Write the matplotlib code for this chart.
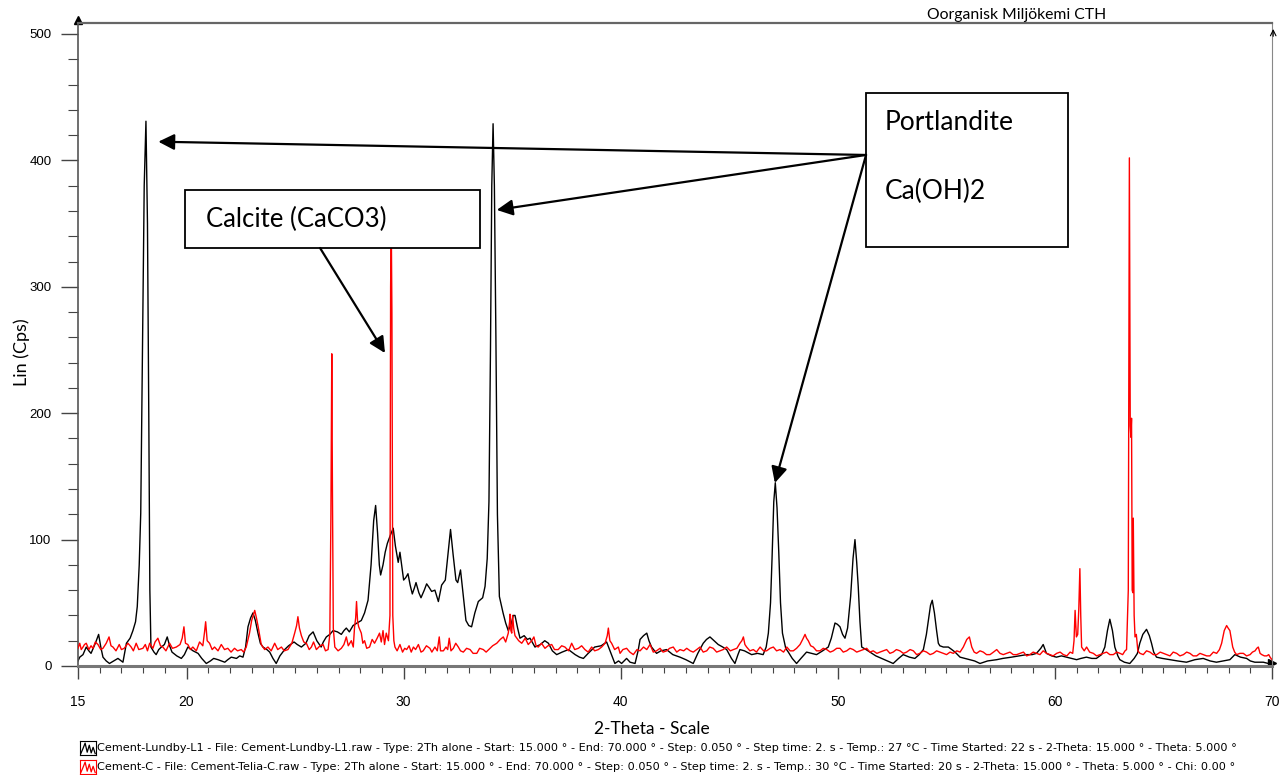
"""XRD pattern of two cement samples with phase annotations."""

import matplotlib

matplotlib.use("Agg")
import matplotlib.pyplot as plt
import matplotlib.ticker as mticker
from matplotlib.patches import Rectangle

W, H, DPI = 1286, 775, 100

# --- data (2-theta in degrees, Lin in Cps) ---
BLACK_2THETA = [
    15.0, 15.08, 15.23, 15.38, 15.5, 15.6, 15.8, 15.95, 16.05, 16.15, 16.3, 16.45, 16.65,
    16.84, 17.07, 17.23, 17.4, 17.53, 17.65, 17.73, 17.82, 17.89, 17.97, 18.05, 18.13,
    18.2, 18.26, 18.31, 18.36, 18.5, 18.6, 18.72, 18.84, 18.98, 19.11, 19.22, 19.33,
    19.55, 19.76, 19.9, 20.06, 20.3, 20.53, 20.7, 20.91, 21.1, 21.25, 21.45, 21.6, 21.76,
    21.9, 22.06, 22.3, 22.45, 22.6, 22.72, 22.83, 22.95, 23.06, 23.17, 23.29, 23.4, 23.52,
    23.7, 23.83, 23.98, 24.13, 24.3, 24.52, 24.7, 24.95, 25.1, 25.29, 25.5, 25.65, 25.83,
    26.0, 26.2, 26.3, 26.44, 26.6, 26.75, 26.95, 27.13, 27.25, 27.36, 27.5, 27.67, 27.85,
    28.05, 28.2, 28.36, 28.5, 28.62, 28.71, 28.8, 28.88, 28.94, 29.05, 29.15, 29.25, 29.4,
    29.52, 29.62, 29.75, 29.83, 29.92, 30.0, 30.1, 30.2, 30.3, 30.4, 30.5, 30.57, 30.7,
    30.8, 30.95, 31.06, 31.18, 31.29, 31.44, 31.6, 31.75, 31.92, 32.05, 32.16, 32.28,
    32.41, 32.49, 32.62, 32.72, 32.87, 33.0, 33.13, 33.28, 33.44, 33.64, 33.75, 33.85,
    33.93, 34.0, 34.06, 34.12, 34.18, 34.25, 34.32, 34.41, 34.5, 34.58, 34.7, 34.82,
    34.95, 35.05, 35.13, 35.25, 35.36, 35.55, 35.7, 35.82, 36.05, 36.3, 36.5, 36.67,
    36.85, 37.05, 37.3, 37.59, 37.9, 38.1, 38.28, 38.5, 38.8, 39.1, 39.35, 39.55, 39.73,
    39.9, 40.04, 40.27, 40.43, 40.66, 40.8, 40.89, 41.05, 41.2, 41.3, 41.42, 41.65, 41.85,
    42.11, 42.4, 42.73, 43.0, 43.34, 43.55, 43.8, 43.95, 44.11, 44.3, 44.49, 44.7, 44.88,
    45.1, 45.26, 45.4, 45.49, 45.7, 46.03, 46.3, 46.56, 46.7, 46.8, 46.9, 46.97, 47.05,
    47.12, 47.2, 47.28, 47.36, 47.45, 47.6, 47.72, 47.9, 48.1, 48.3, 48.56, 48.8, 49.02,
    49.3, 49.56, 49.7, 49.87, 49.98, 50.1, 50.22, 50.33, 50.45, 50.59, 50.7, 50.79, 50.87,
    50.94, 51.02, 51.1, 51.3, 51.48, 51.75, 52.02, 52.3, 52.55, 52.8, 53.01, 53.3, 53.55,
    53.75, 53.94, 54.08, 54.17, 54.27, 54.35, 54.45, 54.55, 54.63, 54.7, 54.86, 55.09,
    55.25, 55.4, 55.63, 55.85, 56.09, 56.3, 56.55, 56.9, 57.32, 57.6, 58.0, 58.35, 58.7,
    58.95, 59.15, 59.35, 59.46, 59.61, 59.85, 60.07, 60.3, 60.53, 60.75, 61.0, 61.2,
    61.45, 61.7, 61.91, 62.15, 62.3, 62.42, 62.53, 62.65, 62.76, 62.9, 62.99, 63.2, 63.45,
    63.65, 63.8, 63.91, 64.05, 64.22, 64.35, 64.45, 64.55, 64.68, 64.95, 65.29, 65.65,
    66.06, 66.45, 66.83, 67.15, 67.44, 67.75, 68.06, 68.29, 68.55, 68.83, 69.0, 69.21,
    69.6, 69.83, 70.0,
]
BLACK_LIN = [
    4, 7, 9, 15, 12, 10, 18, 25, 15, 7, 4, 2, 4,
    6, 3, 18, 22, 28, 35, 47, 80, 121, 250, 380, 431,
    350, 200, 60, 15, 11, 9, 13, 15, 17, 23, 16, 11,
    8, 6, 9, 15, 12, 10, 6, 2, 4, 6, 5, 4, 3,
    5, 7, 6, 8, 7, 15, 31, 38, 42, 36, 26, 18, 15,
    13, 11, 6, 2, 8, 13, 16, 19, 17, 15, 18, 24, 27,
    20, 15, 19, 23, 25, 28, 27, 25, 28, 30, 27, 32, 34,
    36, 42, 52, 80, 115, 127, 105, 80, 72, 80, 90, 97, 104,
    109, 95, 82, 90, 78, 68, 70, 73, 64, 57, 62, 66, 58,
    54, 60, 65, 62, 59, 60, 51, 64, 68, 90, 108, 88,
    68, 66, 76, 60, 36, 32, 31, 42, 51, 54, 63, 85,
    130, 250, 380, 429, 380, 260, 120, 55, 48, 42, 34, 28,
    33, 40, 40, 30, 22, 24, 21, 22, 15, 17, 20, 18,
    12, 9, 11, 13, 9, 7, 6, 10, 15, 16, 19, 10, 2,
    4, 2, 6, 3, 2, 12, 21, 24, 26, 20, 15, 10, 12,
    13, 9, 7, 5, 2, 10, 18, 21, 23, 20, 17, 15, 13,
    6, 2, 9, 13, 12, 9, 10, 9, 15, 26, 50, 85, 130,
    145, 125, 90, 50, 26, 14, 11, 6, 2, 6, 11, 10, 9,
    12, 15, 22, 34, 33, 31, 25, 22, 30, 55, 85, 100, 82,
    63, 35, 15, 13, 11, 8, 6, 4, 2, 6, 9, 7, 6,
    9, 13, 25, 36, 48, 52, 42, 28, 18, 16, 15, 15,
    13, 11, 7, 6, 5, 4, 2, 4, 5, 6, 7, 8, 9,
    9, 10, 14, 17, 10, 8, 7, 8, 7, 6, 5, 6,
    7, 6, 6, 9, 15, 28, 37, 28, 15, 8, 5, 3, 2,
    6, 10, 18, 25, 29, 24, 18, 11, 7, 6, 5, 4,
    3, 5, 6, 4, 3, 4, 5, 9, 7, 6, 4, 3,
    3, 2, 2,
]

RED_2THETA = [
    15.0, 15.08, 15.15, 15.23, 15.3, 15.38, 15.5, 15.6, 15.69, 15.8, 15.92, 16.05, 16.15,
    16.3, 16.43, 16.52, 16.61, 16.75, 16.9, 17.0, 17.13, 17.3, 17.45, 17.55, 17.68, 17.8,
    17.99, 18.1, 18.2, 18.3, 18.45, 18.55, 18.68, 18.8, 18.91, 19.05, 19.22, 19.35, 19.53,
    19.7, 19.8, 19.88, 19.95, 20.06, 20.18, 20.29, 20.45, 20.6, 20.75, 20.83, 20.88, 20.95,
    21.06, 21.18, 21.29, 21.45, 21.6, 21.75, 21.9, 22.05, 22.21, 22.35, 22.52, 22.63,
    22.75, 22.9, 23.0, 23.14, 23.22, 23.3, 23.44, 23.6, 23.75, 23.9, 24.06, 24.2, 24.37,
    24.5, 24.67, 24.85, 24.98, 25.07, 25.13, 25.2, 25.29, 25.4, 25.52, 25.65, 25.75,
    25.85, 25.98, 26.15, 26.29, 26.4, 26.52, 26.6, 26.65, 26.69, 26.72, 26.76, 26.83,
    26.98, 27.13, 27.25, 27.36, 27.45, 27.59, 27.68, 27.74, 27.79, 27.83, 27.88, 27.93,
    28.05, 28.12, 28.2, 28.3, 28.43, 28.55, 28.66, 28.78, 28.89, 28.97, 29.05, 29.12,
    29.2, 29.3, 29.37, 29.4, 29.43, 29.46, 29.5, 29.55, 29.6, 29.7, 29.83, 29.95, 30.05,
    30.14, 30.25, 30.35, 30.45, 30.55, 30.68, 30.8, 30.9, 31.05, 31.21, 31.3, 31.44,
    31.55, 31.64, 31.7, 31.83, 31.95, 32.03, 32.1, 32.18, 32.29, 32.4, 32.52, 32.62,
    32.75, 32.9, 33.06, 33.2, 33.37, 33.5, 33.67, 33.8, 33.98, 34.1, 34.29, 34.45, 34.59,
    34.7, 34.82, 34.88, 34.9, 34.94, 34.98, 35.02, 35.07, 35.13, 35.3, 35.44, 35.6,
    35.74, 35.9, 36.0, 36.1, 36.2, 36.35, 36.51, 36.65, 36.82, 36.95, 37.12, 37.28,
    37.43, 37.6, 37.74, 37.88, 38.05, 38.2, 38.35, 38.5, 38.66, 38.8, 38.97, 39.12,
    39.28, 39.38, 39.43, 39.5, 39.58, 39.72, 39.89, 39.97, 40.1, 40.27, 40.42, 40.58,
    40.75, 40.89, 41.05, 41.2, 41.35, 41.5, 41.65, 41.81, 41.95, 42.12, 42.25, 42.42,
    42.58, 42.73, 42.9, 43.04, 43.2, 43.34, 43.5, 43.65, 43.8, 43.96, 44.1, 44.26,
    44.42, 44.57, 44.72, 44.88, 45.05, 45.19, 45.35, 45.49, 45.58, 45.65, 45.72, 45.8,
    45.95, 46.11, 46.25, 46.42, 46.58, 46.72, 46.88, 47.03, 47.18, 47.34, 47.5, 47.65,
    47.8, 47.95, 48.1, 48.26, 48.38, 48.49, 48.56, 48.64, 48.75, 48.87, 49.02, 49.18,
    49.33, 49.49, 49.65, 49.79, 49.95, 50.1, 50.25, 50.41, 50.56, 50.71, 50.87, 51.02,
    51.18, 51.33, 51.48, 51.63, 51.8, 51.94, 52.1, 52.25, 52.4, 52.55, 52.7, 52.86,
    53.02, 53.17, 53.33, 53.48, 53.63, 53.78, 53.94, 54.09, 54.25, 54.4, 54.55, 54.71,
    54.86, 55.01, 55.17, 55.32, 55.48, 55.63, 55.78, 55.94, 56.06, 56.17, 56.28, 56.39,
    56.55, 56.7, 56.85, 57.01, 57.17, 57.32, 57.47, 57.62, 57.78, 57.93, 58.08, 58.24,
    58.4, 58.55, 58.7, 58.85, 59.0, 59.16, 59.31, 59.46, 59.62, 59.77, 59.92, 60.08,
    60.24, 60.39, 60.55, 60.7, 60.82, 60.88, 60.93, 60.97, 60.99, 61.05, 61.1, 61.15,
    61.19, 61.23, 61.35, 61.46, 61.6, 61.77, 61.92, 62.08, 62.22, 62.38, 62.53, 62.69,
    62.85, 63.0, 63.12, 63.23, 63.3, 63.38, 63.43, 63.47, 63.5, 63.53, 63.56, 63.59,
    63.61, 63.65, 63.69, 63.75, 63.82, 63.92, 64.07, 64.22, 64.38, 64.53, 64.69, 64.85,
    65.0, 65.15, 65.3, 65.45, 65.61, 65.76, 65.92, 66.07, 66.22, 66.37, 66.53, 66.68,
    66.84, 66.99, 67.14, 67.3, 67.45, 67.58, 67.68, 67.8, 67.91, 67.98, 68.06, 68.12,
    68.19, 68.28, 68.37, 68.52, 68.68, 68.83, 68.99, 69.1, 69.22, 69.3, 69.37, 69.45,
    69.53, 69.65, 69.76, 69.85, 69.91, 70.0,
]
RED_LIN = [
    14, 18, 13, 15, 17, 18, 13, 16, 14, 19, 17, 13, 14,
    18, 23, 16, 15, 12, 17, 13, 14, 18, 15, 12, 18, 13,
    14, 17, 12, 18, 14, 19, 22, 16, 15, 12, 18, 14, 15,
    17, 22, 31, 18, 17, 13, 15, 12, 19, 16, 27, 35, 20,
    18, 13, 15, 12, 17, 13, 14, 11, 14, 12, 13, 11,
    15, 26, 36, 44, 38, 31, 17, 13, 15, 12, 18, 13, 15,
    12, 13, 18, 26, 32, 39, 30, 24, 19, 18, 13, 15,
    19, 13, 16, 17, 12, 13, 25, 120, 247, 140, 30, 15,
    12, 14, 17, 23, 16, 20, 15, 31, 38, 51, 35, 31,
    26, 18, 20, 14, 15, 21, 18, 22, 26, 19, 28, 17,
    26, 20, 40, 300, 350, 280, 40, 20, 15, 12, 17, 11, 14,
    13, 16, 11, 15, 13, 17, 11, 12, 16, 14, 11, 15,
    12, 23, 12, 12, 15, 13, 22, 12, 14, 18, 15, 12,
    11, 14, 13, 10, 10, 14, 13, 11, 14, 16, 18, 21, 23,
    19, 26, 35, 41, 28, 26, 40, 30, 24, 20, 18, 22,
    17, 20, 23, 16, 15, 18, 14, 16, 17, 13, 13, 16,
    15, 12, 18, 13, 14, 16, 13, 11, 15, 12, 13, 15,
    18, 24, 30, 20, 18, 13, 15, 10, 13, 14, 11, 9,
    13, 12, 15, 13, 17, 11, 12, 14, 11, 12, 14, 15,
    11, 13, 12, 14, 12, 11, 13, 15, 11, 12, 15, 14,
    11, 12, 13, 15, 12, 13, 14, 18, 20, 23, 17, 15,
    12, 13, 11, 15, 12, 12, 14, 15, 12, 13, 11, 15,
    12, 12, 14, 17, 21, 25, 22, 20, 16, 15, 12, 12,
    14, 13, 11, 12, 14, 14, 11, 12, 14, 13, 11, 12,
    13, 14, 11, 12, 10, 11, 12, 13, 10, 11, 13, 12,
    10, 11, 13, 12, 9, 10, 12, 11, 9, 10, 12, 11,
    10, 9, 11, 10, 12, 11, 15, 21, 23, 15, 11, 10,
    12, 11, 9, 9, 11, 13, 10, 9, 10, 11, 9, 9,
    10, 11, 8, 9, 11, 10, 9, 12, 10, 9, 8, 10,
    11, 9, 8, 11, 10, 20, 44, 30, 23, 25, 45, 77,
    40, 15, 12, 15, 11, 10, 8, 9, 10, 11, 9, 9,
    11, 10, 9, 12, 13, 60, 402, 190, 181, 196, 60, 58,
    117, 40, 23, 25, 12, 10, 9, 12, 11, 9, 9, 11,
    10, 9, 8, 11, 10, 8, 9, 11, 10, 8, 8, 10,
    9, 8, 8, 11, 10, 13, 18, 28, 32, 30, 28, 22,
    15, 11, 9, 10, 10, 8, 9, 11, 12, 14, 15, 10,
    9, 8, 8, 9, 7, 5,
]

X_MAJOR = [15, 20, 30, 40, 50, 60, 70]
Y_MAJOR = [0, 100, 200, 300, 400, 500]

LEGEND_LINES = [
    ("black", "Cement-Lundby-L1 - File: Cement-Lundby-L1.raw - Type: 2Th alone - Start: 15.000 ° - "
              "End: 70.000 ° - Step: 0.050 ° - Step time: 2. s - Temp.: 27 °C - Time Started: 22 s - "
              "2-Theta: 15.000 ° - Theta: 5.000 °"),
    ("red", "Cement-C - File: Cement-Telia-C.raw - Type: 2Th alone - Start: 15.000 ° - "
            "End: 70.000 ° - Step: 0.050 ° - Step time: 2. s - Temp.: 30 °C - Time Started: 20 s - "
            "2-Theta: 15.000 ° - Theta: 5.000 ° - Chi: 0.00 °"),
]
ICON_X = [0.05, 0.2, 0.32, 0.45, 0.58, 0.7, 0.82, 0.95]
ICON_Y = [0.1, 0.5, 0.85, 0.2, 0.7, 0.15, 0.55, 0.1]

LABEL_FONT = "Lato"
TICK_FONT = "Liberation Sans"
BOX_FONTSIZE = 19


def fx(px):
    return px / W


def fy(py):
    return 1 - py / H


fig = plt.figure(figsize=(W / DPI, H / DPI), dpi=DPI)
ax = fig.add_axes([fx(78), fy(666), fx(1272 - 78), (666 - 23) / H])

ax.plot(BLACK_2THETA, BLACK_LIN, color="black", lw=1.0, zorder=2)
ax.plot(RED_2THETA, RED_LIN, color="#ff0000", lw=1.0, zorder=3)

ax.set_xlim(15, 70)
ax.set_ylim(0, (666 - 23) / 1.264)

ax.xaxis.set_major_locator(mticker.FixedLocator(X_MAJOR))
ax.xaxis.set_minor_locator(mticker.MultipleLocator(1))
ax.yaxis.set_major_locator(mticker.FixedLocator(Y_MAJOR))
ax.yaxis.set_minor_locator(mticker.MultipleLocator(20))
ax.tick_params(axis="x", which="major", direction="out", length=9, width=1, pad=12,
               colors="#444", labelcolor="black", labelsize=10)
ax.tick_params(axis="x", which="minor", direction="out", length=5, width=0.8, colors="#444")
ax.tick_params(axis="y", which="major", direction="out", length=12, width=1, pad=7,
               colors="#444", labelcolor="black", labelsize=9.5)
ax.tick_params(axis="y", which="minor", direction="out", length=7, width=0.8, colors="#444")
for lab in ax.get_xticklabels() + ax.get_yticklabels():
    lab.set_fontfamily(TICK_FONT)

ax.spines["bottom"].set_linewidth(2.2)
ax.spines["bottom"].set_color("#777")
ax.spines["top"].set_linewidth(1.6)
ax.spines["top"].set_color("#666")
ax.spines["left"].set_linewidth(1.2)
ax.spines["left"].set_color("#555")
ax.spines["right"].set_linewidth(0.8)
ax.spines["right"].set_color("#888")

# axis arrow heads
ax.plot([0], [1.005], marker="^", ms=6, color="black", transform=ax.transAxes, clip_on=False)
ax.plot([1], [0.005], marker=">", ms=6, color="black", transform=ax.transAxes, clip_on=False)
ax.annotate("", xy=(1.001, 0.995), xytext=(1.001, 0.975), xycoords="axes fraction",
            arrowprops=dict(arrowstyle="->", lw=0.8, color="black"))

# annotation boxes
box_kw = dict(facecolor="white", edgecolor="black", lw=1.3, zorder=6)
ax.add_patch(Rectangle((19.93, 330.7), 33.52 - 19.93, 376.6 - 330.7, **box_kw))
ax.add_patch(Rectangle((51.30, 331.7), 60.60 - 51.30, 453.6 - 331.7, **box_kw))
ax.text(20.9, 353, "Calcite (CaCO3)", fontsize=BOX_FONTSIZE - 0.5, family=LABEL_FONT,
        va="center", ha="left", zorder=7)
ax.text(52.17, 429.8, "Portlandite", fontsize=BOX_FONTSIZE, family=LABEL_FONT,
        va="center", ha="left", zorder=7)
ax.text(52.17, 375.2, "Ca(OH)2", fontsize=BOX_FONTSIZE, family=LABEL_FONT,
        va="center", ha="left", zorder=7)

arrow_kw = dict(arrowstyle="-|>", lw=1.6, color="black", mutation_scale=24,
                shrinkA=0, shrinkB=0)
src = (51.30, 404.3)
for tip in [(18.70, 414.8), (34.29, 360.8), (47.1, 144.8)]:
    ax.annotate("", xy=tip, xytext=src, arrowprops=arrow_kw, zorder=8)
ax.annotate("", xy=(29.14, 247.6), xytext=(26.15, 330.7), arrowprops=arrow_kw, zorder=8)

# labels
fig.text(fx(22), fy(352), "Lin (Cps)", rotation=90, fontsize=13, family=LABEL_FONT,
         ha="center", va="center")
fig.text(fx(652), fy(729), "2-Theta - Scale", fontsize=12.5, family=LABEL_FONT,
         ha="center", va="center")
fig.text(fx(1106), fy(15), "Oorganisk Miljökemi CTH", fontsize=11.3, family=LABEL_FONT,
         ha="right", va="center")

# bottom legend
for i, (color, text) in enumerate(LEGEND_LINES):
    yc = 748 + 19 * i
    iax = fig.add_axes([fx(80), fy(yc + 7), fx(16), 14 / H])
    iax.plot(ICON_X, ICON_Y, color=color, lw=0.9)
    iax.set_xlim(0, 1)
    iax.set_ylim(0, 1)
    iax.set_xticks([])
    iax.set_yticks([])
    for sp in iax.spines.values():
        sp.set_color(color)
        sp.set_linewidth(0.8)
    fig.text(fx(97), fy(yc), text, fontsize=8.15, family="DejaVu Sans", ha="left", va="center")

fig.savefig("out.png", dpi=DPI)
